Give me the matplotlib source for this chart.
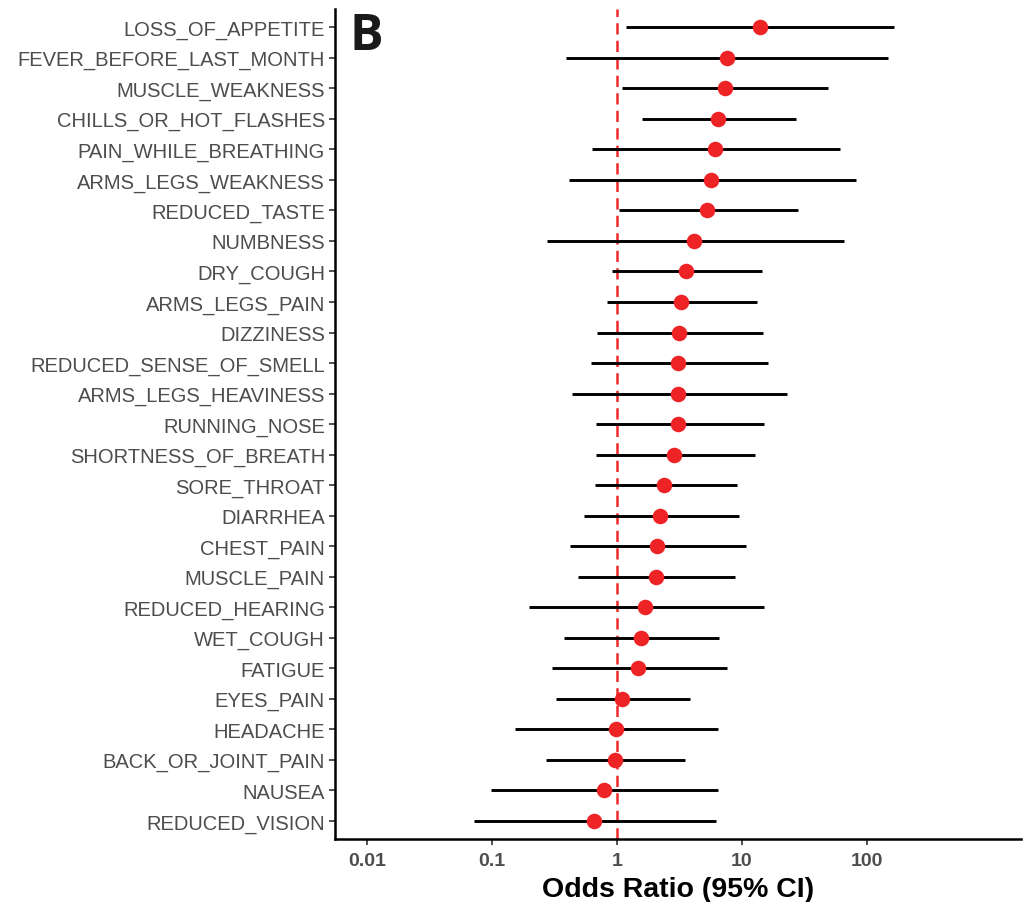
import matplotlib
matplotlib.use("Agg")
import matplotlib.pyplot as plt
import numpy as np

# symptoms, top to bottom as shown
symptoms = [
    "LOSS_OF_APPETITE", "FEVER_BEFORE_LAST_MONTH", "MUSCLE_WEAKNESS",
    "CHILLS_OR_HOT_FLASHES", "PAIN_WHILE_BREATHING", "ARMS_LEGS_WEAKNESS",
    "REDUCED_TASTE", "NUMBNESS", "DRY_COUGH", "ARMS_LEGS_PAIN", "DIZZINESS",
    "REDUCED_SENSE_OF_SMELL", "ARMS_LEGS_HEAVINESS", "RUNNING_NOSE",
    "SHORTNESS_OF_BREATH", "SORE_THROAT", "DIARRHEA", "CHEST_PAIN",
    "MUSCLE_PAIN", "REDUCED_HEARING", "WET_COUGH", "FATIGUE", "EYES_PAIN",
    "HEADACHE", "BACK_OR_JOINT_PAIN", "NAUSEA", "REDUCED_VISION",
]
odds_ratio = [13.9, 7.6, 7.3, 6.5, 6.1, 5.65, 5.25, 4.13, 3.56, 3.25, 3.13,
              3.07, 3.07, 3.07, 2.86, 2.38, 2.21, 2.09, 2.05, 1.68, 1.56,
              1.47, 1.1, 0.98, 0.96, 0.79, 0.65]
ci_lower = [1.18, 0.39, 1.1, 1.6, 0.63, 0.41, 1.04, 0.275, 0.91, 0.83, 0.69,
            0.62, 0.44, 0.68, 0.68, 0.67, 0.55, 0.42, 0.49, 0.198, 0.38,
            0.30, 0.325, 0.153, 0.27, 0.098, 0.072]
ci_upper = [167, 147, 48.7, 27, 60.8, 81.7, 28, 65.5, 14.5, 13.2, 14.7,
            16.1, 22.9, 15.0, 12.7, 9.1, 9.5, 10.8, 8.8, 15.0, 6.55,
            7.6, 3.84, 6.43, 3.5, 6.43, 6.2]
x_ticks = [0.01, 0.1, 1, 10, 100]
x_tick_labels = ["0.01", "0.1", "1", "10", "100"]

fig = plt.figure(figsize=(10.36, 9.03), dpi=100)
ax = fig.add_axes([0.323, 0.0695, 0.663, 0.9195])

n = len(symptoms)
ypos = np.arange(n)[::-1]

# confidence intervals
ax.hlines(ypos, ci_lower, ci_upper, color="black", linewidth=2.1, zorder=2)
# reference line at OR = 1
ax.axvline(1, color="#EE2A2A", linestyle=(0, (4.5, 2.5)), linewidth=1.8, zorder=1)
# point estimates
ax.scatter(odds_ratio, ypos, s=125, color="#EE2326", zorder=3, linewidths=0)

ax.set_xscale("log")
ax.set_xlim(10 ** -2.26, 10 ** 3.24)
ax.set_ylim(-0.6, n - 0.4)
ax.set_xticks(x_ticks)
ax.set_xticklabels(x_tick_labels)
ax.minorticks_off()
ax.set_yticks(ypos)
ax.set_yticklabels(symptoms)

for s in ["top", "right"]:
    ax.spines[s].set_visible(False)
for s in ["left", "bottom"]:
    ax.spines[s].set_linewidth(1.8)
    ax.spines[s].set_color("black")

ax.tick_params(axis="y", length=4, width=1.2, color="#333333", pad=3,
               labelsize=14.5, labelcolor="#4D4D4D")
ax.tick_params(axis="x", length=4, width=1.2, color="#333333", pad=5,
               labelsize=14, labelcolor="#4D4D4D")
for lab in ax.get_yticklabels():
    lab.set_fontfamily("Liberation Sans")
for lab in ax.get_xticklabels():
    lab.set_fontfamily("Liberation Sans")
    lab.set_fontweight("bold")

ax.set_xlabel("Odds Ratio (95% CI)", fontsize=20.5, fontweight="bold",
              family="Liberation Sans", color="black", labelpad=5)

ax.text(0.022, 0.997, "B", transform=ax.transAxes, fontsize=36,
        fontweight="bold", family="Open Sans", va="top", ha="left", color="#1A1A1A")

fig.savefig("out.png", dpi=100)
